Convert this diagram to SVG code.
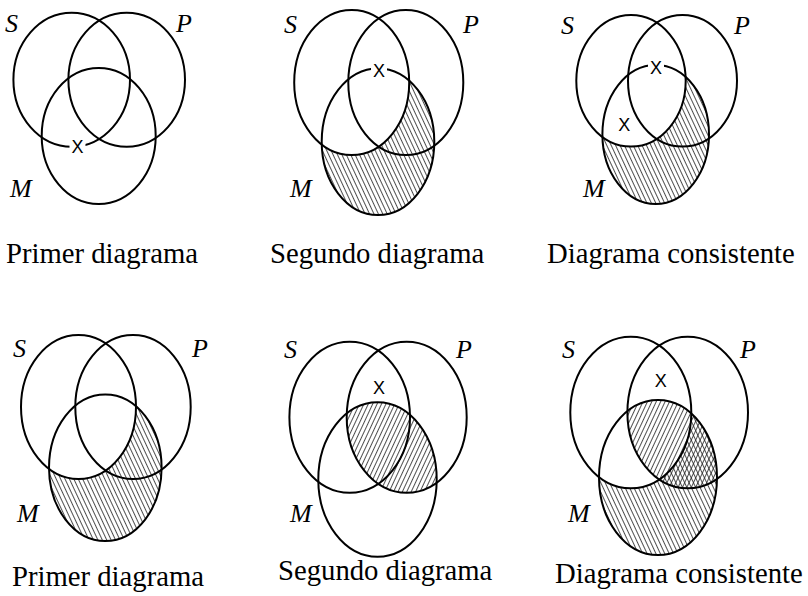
<svg xmlns="http://www.w3.org/2000/svg" width="808" height="596" viewBox="0 0 808 596">
<style>
.c{fill:none;stroke:#000;stroke-width:2}
.lbl{font-family:"Liberation Serif","Times New Roman",serif;font-style:italic;font-size:26px;fill:#000}
.cap{font-family:"Liberation Serif","Times New Roman",serif;font-size:28.7px;fill:#000}
.x{font-family:"Liberation Sans",Arial,sans-serif;font-size:18px;fill:#000;text-anchor:middle}
.gap{fill:#fff}
</style>
<defs>
<pattern id="hb" width="4" height="10" patternUnits="userSpaceOnUse" patternTransform="rotate(-25)"><line x1="0.5" y1="0" x2="0.5" y2="10" stroke="#222" stroke-width="0.8"/></pattern>
<pattern id="hf" width="4" height="10" patternUnits="userSpaceOnUse" patternTransform="rotate(25)"><line x1="0.5" y1="0" x2="0.5" y2="10" stroke="#222" stroke-width="0.8"/></pattern>
<mask id="m2" maskUnits="userSpaceOnUse" x="0" y="0" width="808" height="596"><rect width="808" height="596" fill="#fff"/><ellipse cx="351.7" cy="82.5" rx="57.5" ry="72.5" fill="#000"/></mask>
<mask id="m3" maskUnits="userSpaceOnUse" x="0" y="0" width="808" height="596"><rect width="808" height="596" fill="#fff"/><ellipse cx="631" cy="80.8" rx="54.7" ry="65.8" fill="#000"/></mask>
<mask id="m4" maskUnits="userSpaceOnUse" x="0" y="0" width="808" height="596"><rect width="808" height="596" fill="#fff"/><ellipse cx="78.5" cy="407" rx="57.5" ry="72" fill="#000"/></mask>
<mask id="m6" maskUnits="userSpaceOnUse" x="0" y="0" width="808" height="596"><rect width="808" height="596" fill="#fff"/><ellipse cx="630.8" cy="412.5" rx="60.5" ry="75.8" fill="#000"/></mask>
<clipPath id="p5"><ellipse cx="406.7" cy="417.2" rx="60" ry="75.5"/></clipPath>
<clipPath id="p6"><ellipse cx="687.7" cy="412.5" rx="60.3" ry="75.8"/></clipPath>
</defs>

<g id="diagram1">
<g id="d1-S"><ellipse class="c" cx="71.7" cy="79.7" rx="58.3" ry="67"/><text class="lbl" x="5" y="32">S</text></g>
<g id="d1-P"><ellipse class="c" cx="126.7" cy="79.7" rx="58.3" ry="67"/><text class="lbl" x="176" y="32">P</text></g>
<g id="d1-M"><ellipse class="c" cx="98.7" cy="136" rx="57" ry="68"/><text class="lbl" x="10" y="197">M</text></g>
<g id="d1-x"><rect class="gap" x="69.5" y="140.5" width="16" height="12.5"/><text class="x" x="77.5" y="153">X</text></g>
<text class="cap" x="6" y="263">Primer diagrama</text>
</g>

<g id="diagram2">
<ellipse cx="378" cy="141.7" rx="56.3" ry="73.3" fill="url(#hb)" mask="url(#m2)"/>
<g id="d2-S"><ellipse class="c" cx="351.7" cy="82.5" rx="57.5" ry="72.5"/><text class="lbl" x="284" y="33">S</text></g>
<g id="d2-P"><ellipse class="c" cx="405.8" cy="82.5" rx="57.5" ry="72.5"/><text class="lbl" x="463" y="33">P</text></g>
<g id="d2-M"><ellipse class="c" cx="378" cy="141.7" rx="56.3" ry="73.3"/><text class="lbl" x="290" y="197">M</text></g>
<g id="d2-x"><rect class="gap" x="371" y="64.5" width="16" height="12.5"/><text class="x" x="379" y="77">X</text></g>
<text class="cap" x="270" y="263">Segundo diagrama</text>
</g>

<g id="diagram3">
<ellipse cx="655.7" cy="134.5" rx="53.3" ry="69.5" fill="url(#hb)" mask="url(#m3)"/>
<g id="d3-S"><ellipse class="c" cx="631" cy="80.8" rx="54.7" ry="65.8"/><text class="lbl" x="561" y="34">S</text></g>
<g id="d3-P"><ellipse class="c" cx="682.5" cy="80.8" rx="54.5" ry="65.8"/><text class="lbl" x="734" y="34">P</text></g>
<g id="d3-M"><ellipse class="c" cx="655.7" cy="134.5" rx="53.3" ry="69.5"/><text class="lbl" x="583" y="197">M</text></g>
<g id="d3-x1"><rect class="gap" x="648" y="61.8" width="16" height="12.5"/><text class="x" x="656" y="74.3">X</text></g>
<g id="d3-x2"><text class="x" x="624.3" y="131">X</text></g>
<text class="cap" x="547" y="263">Diagrama consistente</text>
</g>

<g id="diagram4">
<ellipse cx="105.3" cy="467.7" rx="56.3" ry="73.3" fill="url(#hb)" mask="url(#m4)"/>
<g id="d4-S"><ellipse class="c" cx="78.5" cy="407" rx="57.5" ry="72"/><text class="lbl" x="13" y="357">S</text></g>
<g id="d4-P"><ellipse class="c" cx="133" cy="407" rx="57.7" ry="72"/><text class="lbl" x="192" y="357">P</text></g>
<g id="d4-M"><ellipse class="c" cx="105.3" cy="467.7" rx="56.3" ry="73.3"/><text class="lbl" x="17" y="522">M</text></g>
<text class="cap" x="12" y="586">Primer diagrama</text>
</g>

<g id="diagram5">
<ellipse cx="377.5" cy="479.5" rx="59.2" ry="77.2" fill="url(#hf)" clip-path="url(#p5)"/>
<g id="d5-S"><ellipse class="c" cx="349.7" cy="417.2" rx="60.3" ry="75.5"/><text class="lbl" x="284" y="358">S</text></g>
<g id="d5-P"><ellipse class="c" cx="406.7" cy="417.2" rx="60" ry="75.5"/><text class="lbl" x="456" y="358">P</text></g>
<g id="d5-M"><ellipse class="c" cx="377.5" cy="479.5" rx="59.2" ry="77.2"/><text class="lbl" x="290" y="522">M</text></g>
<g id="d5-x"><text class="x" x="379" y="393.5">X</text></g>
<text class="cap" x="278" y="580">Segundo diagrama</text>
</g>

<g id="diagram6">
<ellipse cx="658" cy="477.5" rx="59" ry="77.5" fill="url(#hf)" clip-path="url(#p6)"/>
<ellipse cx="658" cy="477.5" rx="59" ry="77.5" fill="url(#hb)" mask="url(#m6)"/>
<g id="d6-S"><ellipse class="c" cx="630.8" cy="412.5" rx="60.5" ry="75.8"/><text class="lbl" x="562" y="358">S</text></g>
<g id="d6-P"><ellipse class="c" cx="687.7" cy="412.5" rx="60.3" ry="75.8"/><text class="lbl" x="740" y="358">P</text></g>
<g id="d6-M"><ellipse class="c" cx="658" cy="477.5" rx="59" ry="77.5"/><text class="lbl" x="568" y="522">M</text></g>
<g id="d6-x"><text class="x" x="660.7" y="386.8">X</text></g>
<text class="cap" x="555" y="583">Diagrama consistente</text>
</g>
</svg>
